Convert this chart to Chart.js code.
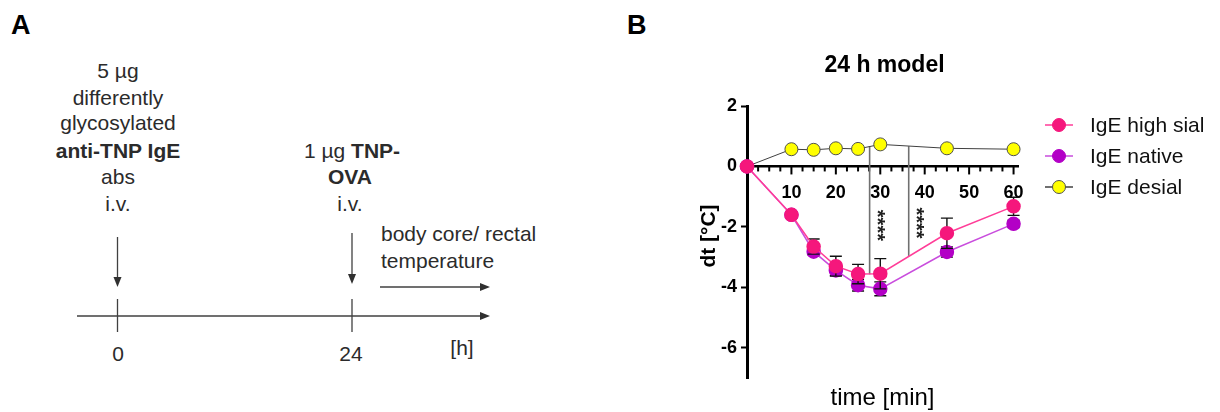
<!DOCTYPE html>
<html>
<head>
<meta charset="utf-8">
<script src="https://cdn.jsdelivr.net/npm/chart.js@4.4.1/dist/chart.umd.min.js"></script>
<style>
  html, body { margin: 0; padding: 0; background: #fff; }
  body { width: 1220px; height: 412px; position: relative; overflow: hidden;
         font-family: "Liberation Sans", Arial, sans-serif; }
  .lbl { position: absolute; transform: translate(-50%, -50%); white-space: nowrap;
         font-size: 21px; color: #2b2b2b; line-height: 1; }
  .left { transform: translate(0, -50%); }
  .panel { position: absolute; font-size: 27px; font-weight: bold; color: #000; }
  #diagram { position: absolute; left: 0; top: 0; }
  #chartBox { position: absolute; left: 680px; top: 0; width: 540px; height: 412px; }
</style>
</head>
<body>

<div class="panel" style="left:11px; top:10px;">A</div>
<div class="panel" style="left:627px; top:10px;">B</div>

<!-- Panel A: timeline -->
<svg id="diagram" width="620" height="412">
  <g stroke="#404040" stroke-width="1.3" fill="none">
    <line x1="117.5" y1="237" x2="117.5" y2="278"/>
    <line x1="352" y1="233" x2="352" y2="275"/>
    <line x1="380" y1="287" x2="482" y2="287"/>
    <line x1="77" y1="316" x2="482" y2="316"/>
    <line x1="117.5" y1="299" x2="117.5" y2="332"/>
    <line x1="352" y1="299" x2="352" y2="332"/>
  </g>
  <g fill="#303030">
    <polygon points="113.5,277 121.5,277 117.5,287"/>
    <polygon points="348,274 356,274 352,284"/>
    <polygon points="480,283 490,287 480,291"/>
    <polygon points="480,312 490,316 480,320"/>
  </g>
</svg>

<div class="lbl" style="left:118px; top:70px;">5 µg</div>
<div class="lbl" style="left:118px; top:97px;">differently</div>
<div class="lbl" style="left:118px; top:122px;">glycosylated</div>
<div class="lbl" style="left:118px; top:150px;"><b>anti-TNP IgE</b></div>
<div class="lbl" style="left:118px; top:176px;">abs</div>
<div class="lbl" style="left:118px; top:203px;">i.v.</div>

<div class="lbl" style="left:352px; top:150px;">1 µg <b>TNP-</b></div>
<div class="lbl" style="left:350px; top:176px;"><b>OVA</b></div>
<div class="lbl" style="left:350px; top:203px;">i.v.</div>

<div class="lbl left" style="left:381px; top:233px;">body core/ rectal</div>
<div class="lbl left" style="left:381px; top:260px;">temperature</div>

<div class="lbl" style="left:118px; top:353px;">0</div>
<div class="lbl" style="left:351px; top:353px;">24</div>
<div class="lbl" style="left:462px; top:347px;">[h]</div>

<!-- Panel B: chart -->
<div id="chartBox"><canvas id="tempChart"></canvas></div>

<script>
// data
const timeMin = [0, 10, 15, 20, 25, 30, 45, 60];
const highSial = [0, -1.6, -2.65, -3.3, -3.56, -3.55, -2.21, -1.32];
const highSialErr = [0, 0.05, 0.25, 0.33, 0.32, 0.5, 0.5, 0.3];
const nativeIgE = [0, -1.6, -2.82, -3.44, -3.93, -4.05, -2.83, -1.9];
const nativeErr = [0, 0.08, 0.1, 0.17, 0.19, 0.23, 0.17, 0.12];
const desialIgE = [0, 0.57, 0.55, 0.6, 0.58, 0.73, 0.6, 0.57];
const desialErr = [0, 0.04, 0.04, 0.04, 0.04, 0.05, 0.04, 0.04];

const xTicks = [10, 20, 30, 40, 50, 60];
const yTicks = [-6, -4, -2, 0, 2];

// significance lines (x, top, bottom) and star positions
const sigX = [27.6, 36.4];
const sigTop = [0.67, 0.67];
const sigBottom = [-3.57, -2.96];
const starX = [30.1, 38.8];
const starY = [-1.95, -1.87];

const FONT = '"Liberation Sans", Arial, sans-serif';

function toPoints(ys) {
  return timeMin.map((t, i) => ({ x: t, y: ys[i] }));
}

// error bars, drawn just before each dataset's own markers
const errorBars = {
  id: 'errorBars',
  beforeDatasetDraw(chart, args) {
    const ds = chart.data.datasets[args.index];
    if (!ds.errors) return;
    const { ctx, scales: { x, y } } = chart;
    ctx.save();
    ctx.strokeStyle = '#111';
    ctx.lineWidth = 1.4;
    ds.data.forEach((p, i) => {
      const e = ds.errors[i];
      if (!e) return;
      const px = x.getPixelForValue(p.x);
      const top = y.getPixelForValue(p.y + e);
      const bot = y.getPixelForValue(p.y - e);
      ctx.beginPath();
      ctx.moveTo(px, top); ctx.lineTo(px, bot);
      ctx.moveTo(px - 6, top); ctx.lineTo(px + 6, top);
      ctx.moveTo(px - 6, bot); ctx.lineTo(px + 6, bot);
      ctx.stroke();
    });
    ctx.restore();
  }
};

// x ticks on the zero line, significance lines, titles, legend
const decorations = {
  id: 'decorations',
  beforeDatasetsDraw(chart) {
    const { ctx, scales: { x, y } } = chart;
    const y0 = y.getPixelForValue(0);
    ctx.save();
    ctx.strokeStyle = '#000';
    ctx.lineWidth = 2;
    for (let v = 2.5; v <= 60; v += 2.5) {
      const px = x.getPixelForValue(v);
      const len = v % 10 === 0 ? 8 : 5;
      ctx.beginPath();
      ctx.moveTo(px, y0);
      ctx.lineTo(px, y0 + len);
      ctx.stroke();
    }
    ctx.strokeStyle = '#707070';
    ctx.lineWidth = 1.6;
    sigX.forEach((v, i) => {
      const px = x.getPixelForValue(v);
      ctx.beginPath();
      ctx.moveTo(px, y.getPixelForValue(sigTop[i]));
      ctx.lineTo(px, y.getPixelForValue(sigBottom[i]));
      ctx.stroke();
    });
    ctx.fillStyle = '#222';
    ctx.font = 'bold 20px ' + FONT;
    ctx.textAlign = 'center';
    ctx.textBaseline = 'middle';
    starX.forEach((v, i) => {
      ctx.save();
      ctx.translate(x.getPixelForValue(v), y.getPixelForValue(starY[i]));
      ctx.rotate(Math.PI / 2);
      ctx.fillText('****', 0, 4);
      ctx.restore();
    });
    ctx.restore();
  },
  afterDraw(chart) {
    const { ctx, chartArea: a } = chart;
    const cx = (a.left + a.right) / 2;
    ctx.save();
    ctx.fillStyle = '#000';
    ctx.textAlign = 'center';
    ctx.textBaseline = 'middle';
    ctx.font = 'bold 23px ' + FONT;
    ctx.fillText('24 h model', cx + 2, 66);
    ctx.font = '24px ' + FONT;
    ctx.fillText('time [min]', cx, a.bottom + 20);
    ctx.save();
    ctx.translate(a.left - 38, a.top + 130);
    ctx.rotate(-Math.PI / 2);
    ctx.font = 'bold 21px ' + FONT;
    ctx.fillText('dt [°C]', 0, 0);
    ctx.restore();

    // legend
    chart.data.datasets.forEach((ds, i) => {
      const lx = a.right + 27;
      const ly = a.top + 19 + i * 31;
      ctx.strokeStyle = ds.borderColor;
      ctx.lineWidth = 1.5;
      ctx.beginPath();
      ctx.moveTo(lx, ly);
      ctx.lineTo(lx + 28, ly);
      ctx.stroke();
      ctx.beginPath();
      ctx.arc(lx + 14, ly, 6.5, 0, Math.PI * 2);
      ctx.fillStyle = ds.pointBackgroundColor;
      ctx.fill();
      ctx.lineWidth = 1;
      ctx.strokeStyle = ds.pointBorderColor;
      ctx.stroke();
      ctx.fillStyle = '#111';
      ctx.textAlign = 'left';
      ctx.font = '21px ' + FONT;
      ctx.fillText(ds.label, lx + 45, ly + 1);
    });
    ctx.restore();
  }
};

const chartEl = document.getElementById('tempChart');

if (chartEl) {
  new Chart(chartEl, {
    type: 'line',
    data: {
      datasets: [{
        label: 'IgE high sial',
        data: toPoints(highSial),
        errors: highSialErr,
        borderColor: '#ff3d98',
        borderWidth: 1.5,
        pointBackgroundColor: '#f5177c',
        pointBorderColor: '#f5177c',
        pointRadius: 6.5,
        clip: false
      }, {
        label: 'IgE native',
        data: toPoints(nativeIgE),
        errors: nativeErr,
        borderColor: '#c94ddd',
        borderWidth: 1.5,
        pointBackgroundColor: '#b300c6',
        pointBorderColor: '#b300c6',
        pointRadius: 6.5,
        clip: false
      }, {
        label: 'IgE desial',
        data: toPoints(desialIgE),
        errors: desialErr,
        borderColor: '#404040',
        borderWidth: 1,
        pointBackgroundColor: '#ffff00',
        pointBorderColor: '#505050',
        pointBorderWidth: 1,
        pointRadius: 6.5,
        clip: false
      }]
    },
    options: {
      responsive: true,
      maintainAspectRatio: false,
      animation: false,
      layout: { padding: { top: 106, bottom: 34, right: 202, left: 0 } },
      plugins: {
        legend: { display: false },
        tooltip: { enabled: false }
      },
      scales: {
        x: {
          type: 'linear',
          min: 0,
          max: 61,
          position: { y: 0 },
          grid: { display: false },
          border: { color: '#000', width: 2.5 },
          ticks: {
            color: '#000',
            padding: 8,
            font: { family: FONT, size: 18, weight: 'bold' }
          },
          afterBuildTicks: s => { s.ticks = xTicks.map(v => ({ value: v })); }
        },
        y: {
          min: -7,
          max: 2,
          grid: { drawOnChartArea: false, tickLength: 6, tickWidth: 2, tickColor: '#000' },
          border: { color: '#000', width: 3 },
          ticks: {
            color: '#000',
            padding: 4,
            font: { family: FONT, size: 18, weight: 'bold' }
          },
          afterBuildTicks: s => { s.ticks = yTicks.map(v => ({ value: v })); },
          afterFit: s => { s.width = 67; }
        }
      }
    },
    plugins: [errorBars, decorations]
  });
}
</script>
</body>
</html>
